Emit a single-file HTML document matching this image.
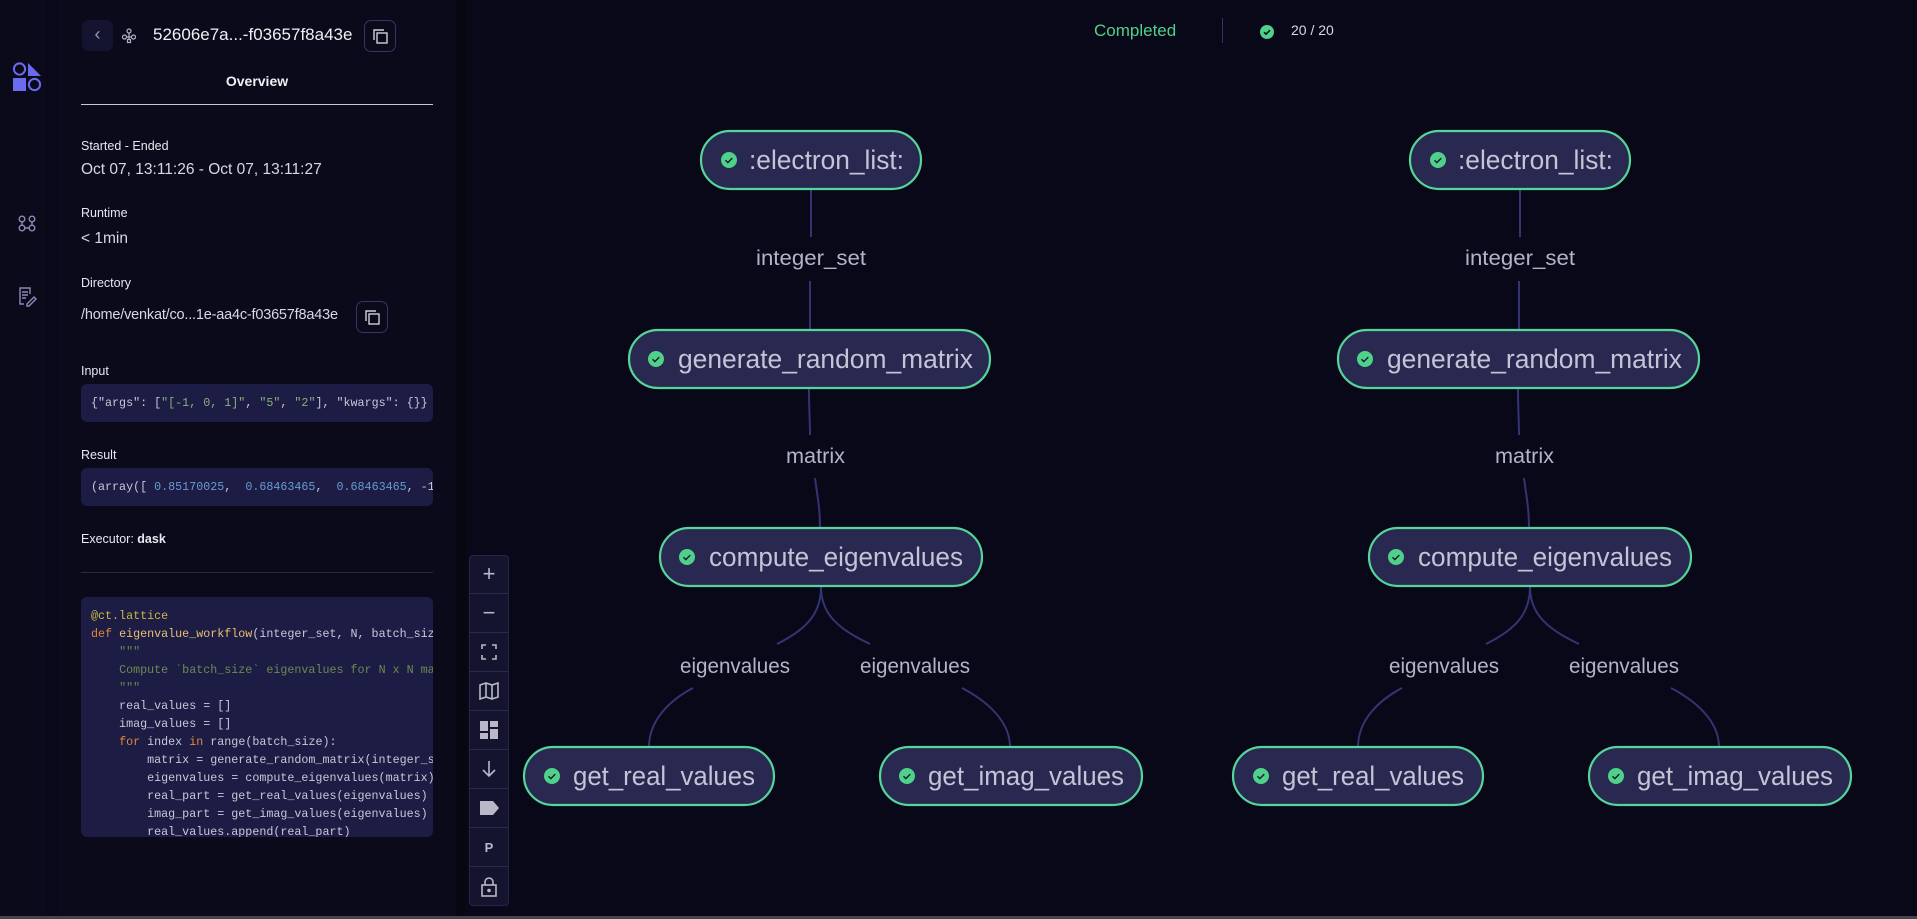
<!DOCTYPE html>
<html><head><meta charset="utf-8"><style>
*{margin:0;padding:0;box-sizing:border-box}
body{width:1917px;height:919px;background:#0a0a1b;position:relative;overflow:hidden;font-family:"Liberation Sans",sans-serif;color:#e6e6ee}
.a{position:absolute}
.lbl{font-size:12.5px;color:#e8e8f0}
.val{font-size:15.5px;color:#d8d8e4}
.box{background:#1c1c44;border-radius:6px}
.mono{font-family:"Liberation Mono",monospace;font-size:11.7px;color:#c8c8d8;white-space:pre}
.tb{position:absolute;left:469px;width:40px;height:39px;border-bottom:1px solid #2a2a4c;display:flex;align-items:center;justify-content:center;color:#b8b8c8}
</style></head><body>
<div class="a" style="left:0;top:0;width:50px;height:919px;background:#0a0a1a"></div>
<div class="a" style="left:46px;top:0;width:12px;height:919px;background:#08081a"></div>
<div class="a" style="left:58px;top:0;width:399px;height:919px;background:#0a0a1b"></div>
<div class="a" style="left:456px;top:0;width:10px;height:919px;background:#07070f"></div>
<div class="a" style="left:466px;top:0;width:1451px;height:919px;background:#080819"></div>
<div class="a" style="left:0;top:916px;width:1917px;height:3px;background:#45454f"></div>
<svg class="a" style="left:0;top:0" width="58" height="320">
<circle cx="19.5" cy="69" r="5.6" fill="none" stroke="#6b6bf0" stroke-width="2"/>
<path d="M28 63 L41 76 L28 76Z" fill="#6b6bf0"/>
<rect x="13" y="78" width="13" height="13" fill="#6b6bf0"/>
<circle cx="34.5" cy="84.5" r="5.6" fill="none" stroke="#6b6bf0" stroke-width="2"/>
<g stroke="#8a8ab8" stroke-width="1.4" fill="none"><circle cx="22" cy="219" r="2.8"/><circle cx="32" cy="219" r="2.8"/><circle cx="22" cy="228" r="2.8"/><circle cx="32" cy="228" r="2.8"/><path d="M22 222v3M32 222v3M25 228h4"/></g>
<g stroke="#8a8ab8" stroke-width="1.4" fill="none"><path d="M30 294v-6h-10v16h4"/><path d="M22 292h6M22 295h6M22 298h4"/><path d="M27 304l7-7 2 2-7 7h-2z"/></g>
</svg>
<div class="a" style="left:82px;top:20px;width:31px;height:31px;background:#141430;border-radius:7px;color:#9a9ab8;font-size:18px;text-align:center;line-height:29px">‹</div>
<svg class="a" style="left:121px;top:28px" width="16" height="16"><g fill="none" stroke="#b0b0c8" stroke-width="1.2"><circle cx="8" cy="3" r="2"/><circle cx="3.5" cy="9" r="2"/><circle cx="12.5" cy="9" r="2"/><rect x="6.5" y="11.5" width="3" height="3"/><path d="M8 5v6M5 9h6"/></g></svg>
<div class="a" style="left:153px;top:25px;font-size:17px;color:#f0f0f4">52606e7a...-f03657f8a43e</div>
<div class="a" style="left:364px;top:20px;width:32px;height:32px;border:1px solid #34346a;border-radius:7px"><svg width="30" height="30"><g fill="none" stroke="#d0d0e0" stroke-width="1.4"><path d="M9 19V9h10"/><rect x="12" y="12" width="10" height="10"/></g></svg></div>
<div class="a" style="left:81px;width:352px;top:73px;text-align:center;font-size:14px;font-weight:bold;color:#f0f0f4">Overview</div>
<div class="a" style="left:81px;top:104px;width:352px;height:1px;background:#c8c8d4"></div>
<div class="a lbl" style="left:81px;top:139px">Started - Ended</div>
<div class="a val" style="left:81px;top:161px">Oct 07, 13:11:26 - Oct 07, 13:11:27</div>
<div class="a lbl" style="left:81px;top:206px">Runtime</div>
<div class="a val" style="left:81px;top:230px">&lt; 1min</div>
<div class="a lbl" style="left:81px;top:276px">Directory</div>
<div class="a val" style="left:81px;top:307px;font-size:14.5px;letter-spacing:-0.2px">/home/venkat/co...1e-aa4c-f03657f8a43e</div>
<div class="a" style="left:356px;top:301px;width:32px;height:32px;border:1px solid #34346a;border-radius:7px"><svg width="30" height="30"><g fill="none" stroke="#d0d0e0" stroke-width="1.4"><path d="M9 19V9h10"/><rect x="12" y="12" width="10" height="10"/></g></svg></div>
<div class="a lbl" style="left:81px;top:364px">Input</div>
<div class="a box" style="left:81px;top:384px;width:352px;height:38px"></div>
<div class="a mono" style="left:91px;top:396px">{"args": [<span style="color:#8ab07a">"[-1, 0, 1]"</span>, <span style="color:#8ab07a">"5"</span>, <span style="color:#8ab07a">"2"</span>], "kwargs": {}}</div>
<div class="a lbl" style="left:81px;top:448px">Result</div>
<div class="a box" style="left:81px;top:468px;width:352px;height:38px;overflow:hidden"><div class="mono" style="position:absolute;left:10px;top:12px">(array([ <span style="color:#6a9ad0">0.85170025</span>,  <span style="color:#6a9ad0">0.68463465</span>,  <span style="color:#6a9ad0">0.68463465</span>, -1</div></div>
<div class="a lbl" style="left:81px;top:532px">Executor: <b>dask</b></div>
<div class="a" style="left:81px;top:572px;width:352px;height:1px;background:#2a2a3c"></div>
<div class="a box" style="left:81px;top:597px;width:352px;height:240px;overflow:hidden">
<div class="mono" style="position:absolute;left:10px;top:10px;line-height:18px"><span style="color:#c8b840">@ct.lattice</span>
<span style="color:#e0883a">def</span> <span style="color:#e8c070">eigenvalue_workflow</span>(integer_set, N, batch_size):
    <span style="color:#6a8a50">"""</span>
    <span style="color:#6a8a50">Compute `batch_size` eigenvalues for N x N matrices</span>
    <span style="color:#6a8a50">"""</span>
    real_values = []
    imag_values = []
    <span style="color:#e0883a">for</span> index <span style="color:#e0883a">in</span> range(batch_size):
        matrix = generate_random_matrix(integer_set, N)
        eigenvalues = compute_eigenvalues(matrix)
        real_part = get_real_values(eigenvalues)
        imag_part = get_imag_values(eigenvalues)
        real_values.append(real_part)</div></div>
<div class="a" style="left:469px;top:555px;width:40px;height:351px;background:#14142f;border:1px solid #24244a;border-radius:4px"></div>
<div class="tb" style="top:555px;font-size:22px">+</div>
<div class="tb" style="top:594px;font-size:22px">−</div>
<div class="tb" style="top:633px"><svg width="16" height="16" fill="none" stroke="#b8b8c8" stroke-width="1.6"><path d="M1 5V1h4M11 1h4v4M15 11v4h-4M5 15H1v-4"/></svg></div>
<div class="tb" style="top:672px"><svg width="20" height="18" fill="none" stroke="#b8b8c8" stroke-width="1.6"><path d="M1 3l6-2 6 2 6-2v14l-6 2-6-2-6 2zM7 1v14M13 3v14"/></svg></div>
<div class="tb" style="top:711px"><svg width="18" height="18" fill="#b8b8c8"><rect x="0" y="0" width="8" height="10"/><rect x="10" y="0" width="8" height="6"/><rect x="0" y="12" width="8" height="6"/><rect x="10" y="8" width="8" height="10"/></svg></div>
<div class="tb" style="top:750px"><svg width="16" height="18" fill="none" stroke="#b8b8c8" stroke-width="1.6"><path d="M8 1v15M2 10l6 6 6-6"/></svg></div>
<div class="tb" style="top:789px"><svg width="20" height="14" fill="#b8b8c8"><path d="M1 0h13l6 7-6 7H1z"/></svg></div>
<div class="tb" style="top:828px;font-size:13px;font-weight:bold">P</div>
<div class="tb" style="top:867px;border:none"><svg width="16" height="20" fill="none" stroke="#b8b8c8" stroke-width="1.6"><path d="M4 8V5a4 4 0 018 0v3"/><rect x="1" y="8" width="14" height="11"/><circle cx="8" cy="13.5" r="1" fill="#b8b8c8"/></svg></div>
<div class="a" style="left:1094px;top:21px;font-size:17px;color:#4fd18a">Completed</div>
<div class="a" style="left:1222px;top:18px;width:1px;height:25px;background:#34346a"></div>
<svg class="a" style="left:1259px;top:24px" width="16" height="16"><circle cx="8" cy="8" r="7" fill="#4fd18a"/><path d="M5 8.2l2 2 4-4" fill="none" stroke="#0a0a1b" stroke-width="1.5"/></svg>
<div class="a" style="left:1291px;top:22px;font-size:14px;color:#d8d8e4">20 / 20</div>
<svg class="a" style="left:0;top:0" width="1917" height="919" font-family="Liberation Sans, sans-serif">
<defs>
<g id="ck"><circle r="8" fill="#4fd18a"/><path d="M-3.5 0.3l2.3 2.3 4.5-4.5" fill="none" stroke="#1a1a30" stroke-width="1.4"/></g>
<g id="tree">
<g fill="none" stroke="#343472" stroke-width="2">
<path d="M811 189 C811 210 811 220 811 237"/>
<path d="M810 281 C810 300 810 310 810 329"/>
<path d="M809 388 C809 410 810 420 810 435"/>
<path d="M815 478 C818 500 820 510 820 527"/>
<path d="M821 587 C821 615 805 630 777 644"/>
<path d="M821 587 C821 615 840 630 870 644"/>
<path d="M693 688 C670 700 649 720 649 747"/>
<path d="M962 688 C985 700 1010 720 1010 747"/>
</g>
<g fill="#282850" stroke="#55d59a" stroke-width="2.2">
<rect x="701" y="131" width="220" height="58" rx="29"/>
<rect x="629" y="330" width="361" height="58" rx="29"/>
<rect x="660" y="528" width="322" height="58" rx="29"/>
<rect x="524" y="747" width="250" height="58" rx="29"/>
<rect x="880" y="747" width="262" height="58" rx="29"/>
</g>
<use href="#ck" x="729" y="160"/><use href="#ck" x="656" y="359"/><use href="#ck" x="687" y="557"/><use href="#ck" x="552" y="776"/><use href="#ck" x="907" y="776"/>
<g fill="#c4c4d6" font-size="27">
<text x="749" y="169" textLength="155" lengthAdjust="spacingAndGlyphs">:electron_list:</text>
<text x="678" y="368" textLength="295" lengthAdjust="spacingAndGlyphs">generate_random_matrix</text>
<text x="709" y="566" textLength="254" lengthAdjust="spacingAndGlyphs">compute_eigenvalues</text>
<text x="573" y="785" textLength="182" lengthAdjust="spacingAndGlyphs">get_real_values</text>
<text x="928" y="785" textLength="196" lengthAdjust="spacingAndGlyphs">get_imag_values</text>
</g>
<g fill="#b4b4c6" font-size="21">
<text x="756" y="265" textLength="110" lengthAdjust="spacingAndGlyphs">integer_set</text>
<text x="786" y="463" textLength="59" lengthAdjust="spacingAndGlyphs">matrix</text>
<text x="680" y="673" textLength="110" lengthAdjust="spacingAndGlyphs">eigenvalues</text>
<text x="860" y="673" textLength="110" lengthAdjust="spacingAndGlyphs">eigenvalues</text>
</g>
</g>
</defs>
<use href="#tree"/>
<use href="#tree" x="709"/>
</svg>
</body></html>
